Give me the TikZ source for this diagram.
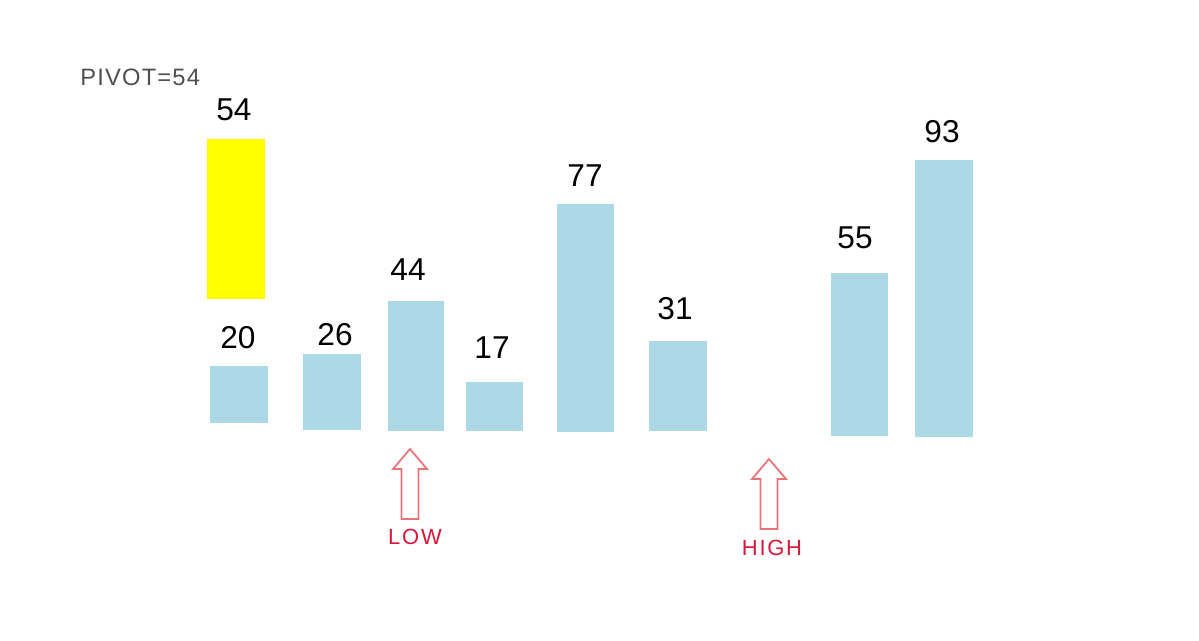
\documentclass[tikz,border=0pt]{standalone}
\usepackage{fontspec}
\setmainfont{Liberation Sans}
\definecolor{barblue}{HTML}{ADD8E6}
\definecolor{pivotyellow}{HTML}{FFFF00}
\definecolor{ptrred}{HTML}{E87478}
\definecolor{txtred}{HTML}{D8173C}
\definecolor{txtgray}{HTML}{505050}

\begin{document}
\begin{tikzpicture}[x=0.02cm,y=-0.02cm,
    value/.style={inner sep=0pt,font=\fontsize{18}{20}\selectfont},
    ptrlabel/.style={inner sep=0pt,text=txtred,font=\fontsize{12.5}{14}\selectfont\addfontfeatures{LetterSpace=8}},
    ptr/.pic={\draw[ptrred,line width=1pt,line join=miter]
        (0,0) -- (17,20) -- (8.5,20) -- (8.5,70) -- (-8.5,70) -- (-8.5,20) -- (-17,20) -- cycle;}]
    \useasboundingbox (0,0) rectangle (1199,640);

    % pivot value, held apart
    \node[anchor=west,inner sep=0pt,text=txtgray,font=\fontsize{13.5}{15}\selectfont\addfontfeatures{LetterSpace=5}] (pivot) at (80,77) {PIVOT=54};
    \fill[pivotyellow] (207,139) rectangle (265,299);
    \node[value] (v54) at (234,110) {54};

    % the list being partitioned
    \foreach \v/\l/\t/\r/\b/\lx/\ly in {20/210/366/268/423/238/338,
                                      26/303/354/361/430/335/335,
                                      44/388/301/444/431/408/270,
                                      17/466/382/523/431/492/348,
                                      77/557/204/614/432/585/176,
                                      31/649/341/707/431/675/309,
                                      55/831/273/888/436/855/238,
                                      93/915/160/973/437/942/132}{
        \fill[barblue] (\l,\t) rectangle (\r,\b);
        \node[value] (v\v) at (\lx,\ly) {\v};
    }

    % low and high markers
    \pic at (410,449) {ptr};
    \node[ptrlabel] (low) at (415,537) {LOW};
    \pic at (769,459) {ptr};
    \node[ptrlabel] (high) at (772,548) {HIGH};
\end{tikzpicture}
\end{document}
